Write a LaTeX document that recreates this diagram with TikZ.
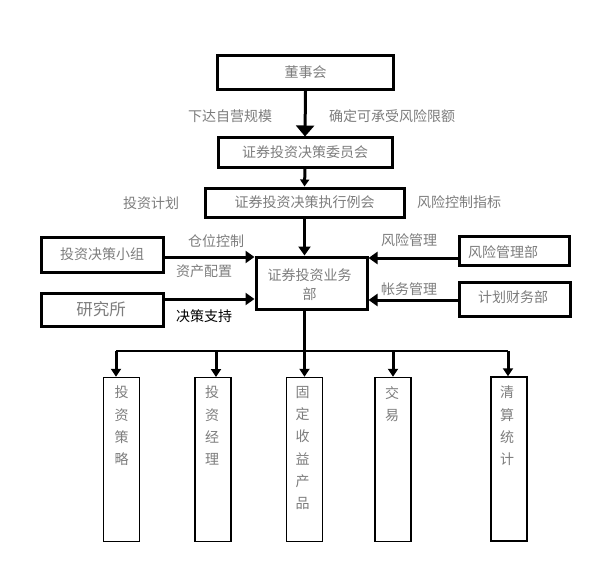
\documentclass[tikz,border=0pt]{standalone}
\usepackage{fontspec}
\newfontfamily\cjk{Noto Sans CJK SC}
\usetikzlibrary{arrows.meta}
\definecolor{txtgray}{RGB}{125,125,125}
\tikzset{
  every node/.style={font=\cjk\fontsize{14}{19}\selectfont, text=txtgray, inner sep=0pt},
  bigbox/.style={draw=black, line width=3pt, rectangle},
  colbox/.style={draw=black, line width=1.5pt, rectangle, minimum width=36pt, minimum height=164pt},
  coltext/.style={anchor=north, align=center, font=\cjk\fontsize{14}{22.3}\selectfont},
  lbl/.style={text=txtgray},
  thickarr/.style={line width=3pt, -{Triangle[width=12pt,length=9pt]}},
  droparr/.style={line width=3pt, -{Triangle[width=10pt,length=8pt]}},
  busline/.style={line width=1.5pt},
}
\begin{document}
\begin{tikzpicture}[x=1pt,y=-1pt]
\useasboundingbox (0,0) rectangle (594,567);
\fill[white] (0,0) rectangle (594,567);

% upper chain
\node[bigbox, minimum width=176pt, minimum height=34pt] (board) at (305.5,72.5) {董事会};
\node[bigbox, minimum width=174pt, minimum height=29pt] (comm) at (305,152.5) {证券投资决策委员会};
\node[bigbox, minimum width=199pt, minimum height=29pt] (exec) at (304.5,202.5) {证券投资决策执行例会};
\node[bigbox, minimum width=111pt, minimum height=52pt] (dept) at (311.5,283) {};
\node[align=center] (depttxt) at (309.5,284.5) {证券投资业务\\部};

% side boxes
\node[bigbox, minimum width=122pt, minimum height=35pt] (grp) at (102,254.5) {投资决策小组};
\node[bigbox, minimum width=122pt, minimum height=33pt, font=\cjk\fontsize{16.5}{19}\selectfont] (res) at (102,309.5) {\hspace*{-2pt}研究所};
\node[bigbox, minimum width=110pt, minimum height=29pt] (risk) at (514,250.5) {};
\node (risktxt) at (503,252) {风险管理部};
\node[bigbox, minimum width=111pt, minimum height=34pt] (fin) at (514.5,299) {};
\node (fintxt) at (513,297.5) {计划财务部};

% labels
\node[lbl] (l1) at (230,116) {下达自营规模};
\node[lbl] (l2) at (392,116) {确定可承受风险限额};
\node[lbl] (l3) at (151,203) {投资计划};
\node[lbl] (l4) at (459,202) {风险控制指标};
\node[lbl] (l5) at (216,241) {仓位控制};
\node[lbl] (l6) at (204,271) {资产配置};
\node[text=black] (l7) at (204,316) {决策支持};
\node[lbl] (l8) at (409,240) {风险管理};
\node[lbl] (l9) at (409,289) {帐务管理};

% vertical connectors
\draw[line width=3pt, -{Triangle[width=18pt,length=11pt]}] (board.south) -- (comm.north);
\draw[line width=3pt, -{Triangle[width=9pt,length=7pt]}] (comm.south) -- (exec.north);
\draw[thickarr] (exec.south) -- (exec.south |- dept.north);

% side connectors
\draw[thickarr] (grp.east |- 0,257) -- (dept.west |- 0,257);
\draw[thickarr] (res.east |- 0,299) -- (dept.west |- 0,299);
\draw[thickarr] (risk.west |- 0,258) -- (dept.east |- 0,258);
\draw[thickarr] (fin.west |- 0,300) -- (dept.east |- 0,300);

% bottom boxes
\node[colbox] (b1) at (121.5,459.5) {};
\node[colbox] (b2) at (213,459.5) {};
\node[colbox] (b3) at (304.5,459.5) {};
\node[colbox] (b4) at (393,459.5) {};
\node[colbox] (b5) at (509,459) {};
\node[coltext] (t1) at (121.5,386) {投\\资\\策\\略};
\node[coltext] (t2) at (212,386) {投\\资\\经\\理};
\node[coltext] (t3) at (302.5,386) {固\\定\\收\\益\\产\\品};
\node[coltext] (t4) at (392,386) {交\\易};
\node[coltext] (t5) at (507,386) {清\\算\\统\\计};

% bus
\coordinate (busL) at (116,351);
\coordinate (busR) at (508,351);
\coordinate (stemtop) at (exec.south |- dept.south);
\draw[busline] (busL) -- (busR);
\draw[line width=3pt] (stemtop) -- (stemtop |- busL);
\draw[droparr] (stemtop |- busL) -- (stemtop |- b3.north);
\draw[droparr] (busL) -- (busL |- b1.north);
\draw[droparr] (216,351) -- (216,377);
\draw[droparr] (393,351) -- (b4.north);
\draw[droparr] (busR) -- (busR |- b5.north);
\end{tikzpicture}
\end{document}
